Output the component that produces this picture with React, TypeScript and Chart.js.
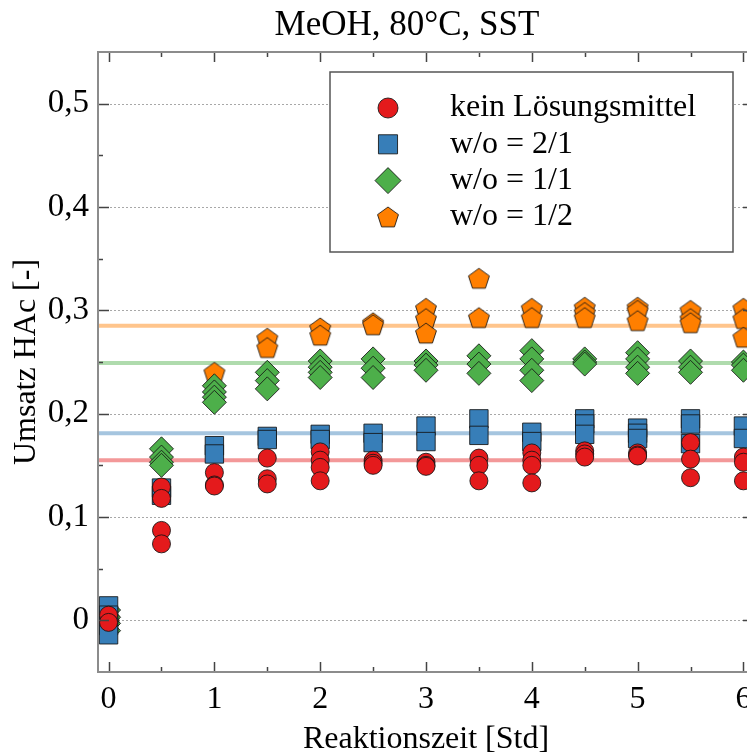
import React, { useEffect, useRef } from 'react';
import { Chart, registerables } from 'chart.js';
import { drawPoint } from 'chart.js/helpers';

Chart.register(...registerables);

const FONT = "'Liberation Serif', 'Times New Roman', Times, serif";

const chartTitle = 'MeOH, 80°C, SST';
const xAxisTitle = 'Reaktionszeit [Std]';
const yAxisTitle = 'Umsatz HAc [-]';

const xRange = [-0.1, 6.1];
const yRange = [-0.05, 0.55];
const xTicks = [0, 1, 2, 3, 4, 5, 6];
const xTickLabels = ['0', '1', '2', '3', '4', '5', '6'];
const xMinorTicks = [0.5, 1.5, 2.5, 3.5, 4.5, 5.5];
const yTicks = [0, 0.1, 0.2, 0.3, 0.4, 0.5];
const yTickLabels = ['0', '0,1', '0,2', '0,3', '0,4', '0,5'];
const yMinorTicks = [0.05, 0.15, 0.25, 0.35, 0.45];

const times = [0, 0.5, 1, 1.5, 2, 2.5, 3, 3.5, 4, 4.5, 5, 5.5, 6];

const seriesLabels = ['kein Lösungsmittel', 'w/o = 2/1', 'w/o = 1/1', 'w/o = 1/2'];

// replicate values per time point
const keinLM = [
  [0.005, -0.002],
  [0.129, 0.118, 0.087, 0.074],
  [0.143, 0.131, 0.130],
  [0.157, 0.137, 0.132],
  [0.163, 0.155, 0.148, 0.135],
  [0.155, 0.152, 0.150],
  [0.153, 0.150, 0.149],
  [0.157, 0.150, 0.135],
  [0.162, 0.155, 0.150, 0.133],
  [0.164, 0.161, 0.158],
  [0.162, 0.160, 0.159],
  [0.172, 0.156, 0.138],
  [0.158, 0.153, 0.135],
];
const wo21 = [
  [0.014, 0.005, -0.005, -0.014],
  [0.128, 0.121],
  [0.169, 0.161],
  [0.178, 0.175],
  [0.180, 0.175],
  [0.181, 0.172],
  [0.188, 0.173],
  [0.195, 0.179],
  [0.182, 0.173],
  [0.195, 0.190, 0.180],
  [0.186, 0.181, 0.176],
  [0.195, 0.190, 0.171],
  [0.188, 0.176],
];
const wo11 = [
  [0.010, 0.003, -0.003, -0.010],
  [0.166, 0.158, 0.153, 0.150],
  [0.227, 0.221, 0.216, 0.211],
  [0.240, 0.232, 0.224],
  [0.251, 0.245, 0.240, 0.235],
  [0.253, 0.244, 0.235],
  [0.251, 0.247, 0.242],
  [0.256, 0.248, 0.239],
  [0.261, 0.253, 0.242, 0.232],
  [0.253, 0.250, 0.248],
  [0.259, 0.253, 0.245, 0.239],
  [0.251, 0.245, 0.240],
  [0.250, 0.247, 0.242],
];
const wo12 = [
  [0.002, -0.002],
  [],
  [0.240],
  [0.273, 0.264],
  [0.283, 0.276],
  [0.288, 0.286],
  [0.302, 0.292, 0.278],
  [0.331, 0.293],
  [0.302, 0.293],
  [0.303, 0.298, 0.293],
  [0.303, 0.300, 0.290],
  [0.300, 0.292, 0.288],
  [0.302, 0.292, 0.274],
];

const meanKeinLM = 0.155;
const meanWo21 = 0.181;
const meanWo11 = 0.249;
const meanWo12 = 0.285;

const colors = ['#e41a1c', '#377eb8', '#4daf4a', '#ff7f00'];
const meanColors = [
  'rgba(228,26,28,0.45)',
  'rgba(55,126,184,0.45)',
  'rgba(77,175,74,0.45)',
  'rgba(255,127,0,0.45)',
];
const edgeColor = 'rgba(20,20,20,0.85)';

function toPoints(vals: number[][]) {
  const pts: { x: number; y: number }[] = [];
  times.forEach((t, i) => (vals[i] || []).forEach((v) => pts.push({ x: t, y: v })));
  return pts;
}

function makePentagon(fill: string, R: number) {
  const size = Math.ceil(R * 2 + 4);
  const c = document.createElement('canvas');
  c.width = size;
  c.height = size;
  const g = c.getContext('2d')!;
  const cx = size / 2;
  const cy = size / 2 + R * 0.0955;
  g.beginPath();
  for (let k = 0; k < 5; k++) {
    const ang = -Math.PI / 2 + (k * 2 * Math.PI) / 5;
    const px = cx + R * Math.cos(ang);
    const py = cy + R * Math.sin(ang);
    if (k === 0) g.moveTo(px, py);
    else g.lineTo(px, py);
  }
  g.closePath();
  g.fillStyle = fill;
  g.fill();
  g.lineWidth = 1;
  g.strokeStyle = edgeColor;
  g.stroke();
  return c;
}

const framePlugin = {
  id: 'frame',
  beforeDatasetsDraw(chart: any) {
    const { ctx, chartArea: a, scales } = chart;
    const y = scales.y;
    ctx.save();
    ctx.strokeStyle = '#a8a8a8';
    ctx.lineWidth = 1;
    ctx.setLineDash([2, 2]);
    for (const v of yTicks) {
      const py = Math.round(y.getPixelForValue(v)) + 0.5;
      ctx.beginPath();
      ctx.moveTo(a.left, py);
      ctx.lineTo(a.right, py);
      ctx.stroke();
    }
    ctx.restore();
  },
  afterDatasetsDraw(chart: any) {
    const { ctx, chartArea: a, scales } = chart;
    const x = scales.x;
    const y = scales.y;
    ctx.save();
    // title
    ctx.fillStyle = '#000';
    ctx.font = `35px ${FONT}`;
    ctx.textAlign = 'center';
    ctx.textBaseline = 'middle';
    ctx.fillText(chartTitle, chart.width / 2, 26);
    // ticks
    ctx.strokeStyle = '#444';
    ctx.lineWidth = 1.5;
    const tickX = (v: number, len: number) => {
      const px = Math.round(x.getPixelForValue(v)) + 0.5;
      ctx.beginPath();
      ctx.moveTo(px, a.bottom);
      ctx.lineTo(px, a.bottom - len);
      ctx.moveTo(px, a.top);
      ctx.lineTo(px, a.top + len);
      ctx.stroke();
    };
    const tickY = (v: number, len: number) => {
      const py = Math.round(y.getPixelForValue(v)) + 0.5;
      ctx.beginPath();
      ctx.moveTo(a.left, py);
      ctx.lineTo(a.left + len, py);
      ctx.moveTo(a.right, py);
      ctx.lineTo(a.right - len, py);
      ctx.stroke();
    };
    xTicks.forEach((v) => tickX(v, 10));
    xMinorTicks.forEach((v) => tickX(v, 5));
    yTicks.forEach((v) => tickY(v, 11));
    yMinorTicks.forEach((v) => tickY(v, 5));
    // frame
    ctx.strokeStyle = '#8c8c8c';
    ctx.lineWidth = 2;
    ctx.strokeRect(a.left, a.top, a.right - a.left, a.bottom - a.top);

    // legend
    const L = a.left + 232;
    const T = a.top + 20;
    const W = 403;
    const H = 180;
    ctx.fillStyle = '#fff';
    ctx.fillRect(L, T, W, H);
    ctx.strokeStyle = '#555';
    ctx.lineWidth = 1.5;
    ctx.strokeRect(L, T, W, H);
    const items = chart.data.datasets.filter((d: any) => d.inLegend);
    items.forEach((d: any, i: number) => {
      const cy = T + 36 + i * 36.3;
      ctx.fillStyle = d.backgroundColor;
      ctx.strokeStyle = edgeColor;
      ctx.lineWidth = 1;
      drawPoint(ctx, { pointStyle: d.pointStyle, rotation: 0, radius: d.legendRadius, borderWidth: 1 } as any, L + 58, cy);
      ctx.fillStyle = '#000';
      ctx.font = `32px ${FONT}`;
      ctx.textBaseline = 'middle';
      ctx.textAlign = 'left';
      ctx.fillText(d.label, L + 120, cy);
    });
    ctx.restore();
  },
};

export default function App() {
  const ref = useRef<HTMLCanvasElement>(null);
  useEffect(() => {
    const canvas = ref.current!;
    const pent = makePentagon(colors[3], 11);
    const meanLine = (level: number, color: string) => ({
      type: 'scatter' as const,
      data: [
        { x: xRange[0], y: level },
        { x: xRange[1], y: level },
      ],
      showLine: true,
      pointRadius: 0,
      borderWidth: 4,
      borderColor: color,
      backgroundColor: color,
      order: 10,
    });
    const series = (i: number, vals: number[][], style: any, radius: number, legendRadius: number, order: number) => ({
      label: seriesLabels[i],
      data: toPoints(vals),
      pointStyle: style,
      pointRadius: radius,
      pointBackgroundColor: colors[i],
      backgroundColor: colors[i],
      pointBorderColor: edgeColor,
      pointBorderWidth: 1,
      showLine: false,
      order,
      inLegend: true,
      legendRadius,
    });
    const chart = new Chart(canvas, {
      type: 'scatter',
      data: {
        datasets: [
          series(0, keinLM, 'circle', 9, 10, 1),
          series(1, wo21, 'rect', 13, 13.5, 2),
          series(2, wo11, 'rectRot', 12, 13, 3),
          series(3, wo12, pent, 11, 11, 4),
          meanLine(meanKeinLM, meanColors[0]),
          meanLine(meanWo21, meanColors[1]),
          meanLine(meanWo11, meanColors[2]),
          meanLine(meanWo12, meanColors[3]),
        ] as any,
      },
      options: {
        responsive: false,
        animation: false,
        devicePixelRatio: 1,
        layout: { padding: { left: 0, right: 60, top: 52, bottom: 0 } },
        plugins: {
          legend: { display: false },
          tooltip: { enabled: false },
          title: { display: false },
        },
        scales: {
          x: {
            type: 'linear',
            min: xRange[0],
            max: xRange[1],
            afterBuildTicks: (s: any) => {
              s.ticks = xTicks.map((v) => ({ value: v }));
            },
            afterFit: (s: any) => {
              s.height = 84;
            },
            ticks: {
              autoSkip: false,
              maxRotation: 0,
              color: '#000',
              padding: 8,
              font: { family: FONT, size: 32 },
              callback: (_v: any, i: number) => xTickLabels[i],
            },
            grid: { display: false, drawTicks: false },
            border: { display: false },
            title: {
              display: true,
              text: xAxisTitle,
              color: '#000',
              font: { family: FONT, size: 32, lineHeight: 1 },
              padding: 0,
            },
          },
          y: {
            type: 'linear',
            min: yRange[0],
            max: yRange[1],
            afterBuildTicks: (s: any) => {
              s.ticks = yTicks.map((v) => ({ value: v }));
            },
            afterFit: (s: any) => {
              s.width = 98;
            },
            ticks: {
              autoSkip: false,
              color: '#000',
              padding: 9,
              font: { family: FONT, size: 33 },
              callback: (_v: any, i: number) => yTickLabels[i],
            },
            grid: { display: false, drawTicks: false },
            border: { display: false },
            title: {
              display: true,
              text: yAxisTitle,
              color: '#000',
              font: { family: FONT, size: 32, lineHeight: 1 },
              padding: { top: 11, bottom: 0 },
            },
          },
        },
      } as any,
      plugins: [framePlugin],
    });
    return () => chart.destroy();
  }, []);
  return (
    <div
      style={{
        position: 'fixed',
        left: 0,
        top: 0,
        width: 747,
        height: 756,
        overflow: 'hidden',
        background: '#fff',
      }}
    >
      <canvas ref={ref} width={814} height={756} style={{ display: 'block', width: 814, height: 756 }} />
    </div>
  );
}
